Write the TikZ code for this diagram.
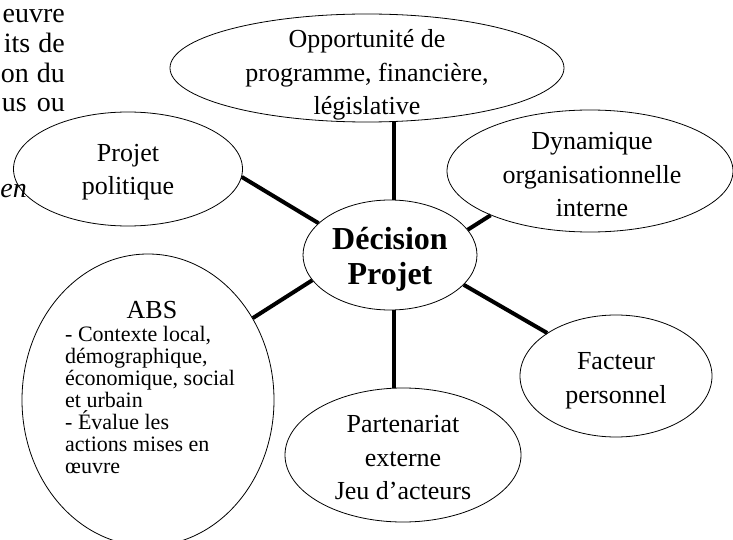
\documentclass[tikz,border=0pt]{standalone}
\usepackage{fontspec}
\setmainfont{Liberation Serif}
\usetikzlibrary{shapes.geometric}
\tikzset{
	bubble/.style ={ellipse, draw=black, line width=0.8pt, inner sep=0pt},
	bubtxt/.style ={align=center, font=\fontsize{26}{33.5}\selectfont},
	listtxt/.style={align=left, inner sep=0pt, font=\fontsize{22}{22}\selectfont},
	marge/.style  ={anchor=base east, inner sep=0pt, font=\fontsize{28}{30}\selectfont},
	spoke/.style  ={line width=4pt},
}
\begin{document}
\begin{tikzpicture}[x=1pt, y=-1pt]
	\useasboundingbox (0,0) rectangle (733,540);
	% running text at the left margin
	\node[marge] (m1) at (65,23) {euvre};
	\node[marge] (m2) at (65,53) {its\hspace{8pt}de};
	\node[marge] (m3) at (65,83) {on\hspace{8pt}du};
	\node[marge] (m4) at (65,112) {us\hspace{10pt}ou};
	\node[marge, font=\fontsize{28}{30}\selectfont\itshape] (m5) at (27,197) {en};
	% ellipses
	\node[bubble, minimum width=394pt, minimum height=108pt] (opp) at (367,68) {};
	\node[bubble, minimum width=229pt, minimum height=114pt] (pol) at (128,169) {};
	\node[bubble, minimum width=286pt, minimum height=122pt] (dyn) at (590,171) {};
	\node[bubble, minimum width=174pt, minimum height=110pt] (dec) at (390,255) {};
	\node[bubble, minimum width=252pt, minimum height=292pt] (abs) at (148,400) {};
	\node[bubble, minimum width=192pt, minimum height=122pt] (fac) at (616,376) {};
	\node[bubble, minimum width=236pt, minimum height=134pt] (par) at (403,455) {};
	% labels
	\node[bubtxt] (opptxt) at (367,75) {Opportunité de\\programme, financière,\\législative};
	\node[bubtxt] (poltxt) at (128,172) {Projet\\politique};
	\node[bubtxt] (dyntxt) at (592,175) {Dynamique\\organisationnelle\\interne};
	\node[bubtxt, font=\fontsize{32}{35}\selectfont\bfseries] (dectxt) at (390,259) {Décision\\Projet};
	\node[bubtxt] (factxt) at (616,381) {Facteur\\personnel};
	\node[bubtxt] (partxt) at (403,458) {Partenariat\\externe\\Jeu d’acteurs};
	\node[anchor=base, inner sep=0pt, font=\fontsize{26}{30}\selectfont] (abstitle) at (152,318) {ABS};
	\node[listtxt, anchor=north west] (abslist) at (65,326)
		{- Contexte local,\\démographique,\\économique, social\\et urbain\\- Évalue les\\actions mises en\\œuvre};
	% spokes
	\draw[spoke] (dec.86) -- (dec.86 |- opp.south);
	\draw[spoke] (pol.-4) -- (dec.156);
	\draw[spoke] (dyn.204) -- (dec.18);
	\draw[spoke] (dec.198) -- (abs.38);
	\draw[spoke] (dec.-22) -- (fac.148);
	\draw[spoke] (dec.-86) -- (dec.-86 |- par.north);
\end{tikzpicture}
\end{document}
